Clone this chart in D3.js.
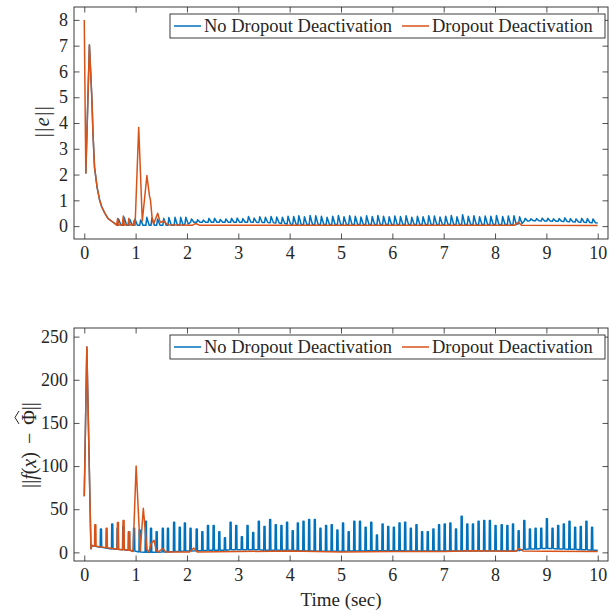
<!DOCTYPE html>
<html>
<head>
<meta charset="utf-8">
<script src="https://cdn.jsdelivr.net/npm/d3@7"></script>
<style>
  html, body { margin: 0; padding: 0; background: #fff; }
  svg { display: block; }
  text { font-family: "Liberation Serif", "Times New Roman", serif; fill: #262626; }
</style>
</head>
<body>
<svg id="chart" width="615" height="614"></svg>
<script>
// ---------------- DATA ----------------
const seriesNames = ["No Dropout Deactivation", "Dropout Deactivation"];
const xTicks = [0, 1, 2, 3, 4, 5, 6, 7, 8, 9, 10];
const eTicks = [0, 1, 2, 3, 4, 5, 6, 7, 8];
const fTicks = [0, 50, 100, 150, 200, 250];

// periodic dropout cycle instants (sec)
const cycleT = [0.65,0.76,0.87,0.97,1.08,1.20,1.30,1.41,1.53,1.63,
  1.75,1.86,1.96,2.07,2.19,2.30,2.41,2.52,2.63,2.74,
  2.85,2.96,3.07,3.18,3.29,3.40,3.51,3.62,3.73,3.84,
  3.95,4.06,4.16,4.27,4.38,4.49,4.60,4.71,4.82,4.93,
  5.04,5.15,5.26,5.37,5.48,5.59,5.70,5.81,5.92,6.03,
  6.14,6.25,6.36,6.47,6.58,6.69,6.80,6.91,7.02,7.13,
  7.24,7.35,7.46,7.57,7.68,7.79,7.90,8.01,8.13,8.24,
  8.35,8.46,8.57,8.68,8.79,8.90,9.01,9.12,9.23,9.34,
  9.45,9.56,9.67,9.78,9.89];

// ||e||, no dropout deactivation
const eBlueHeadT = [0.03,0.10,0.15,0.17,0.20,0.25,0.30,0.34,0.40,0.46,0.56];
const eBlueHeadV = [2.05,7.03,4.86,3.57,2.28,1.50,1.00,0.75,0.50,0.30,0.15];
const eBluePeak = [0.28,0.34,0.26,0.28,0.24,0.34,0.32,0.28,0.30,0.33,
  0.34,0.34,0.34,0.28,0.25,0.24,0.30,0.30,0.26,0.28,
  0.30,0.31,0.29,0.37,0.31,0.36,0.34,0.37,0.35,0.34,
  0.38,0.37,0.40,0.36,0.41,0.40,0.38,0.34,0.38,0.41,
  0.36,0.40,0.38,0.35,0.40,0.37,0.41,0.38,0.36,0.39,
  0.37,0.40,0.34,0.38,0.36,0.40,0.39,0.35,0.38,0.41,
  0.36,0.44,0.38,0.40,0.36,0.39,0.38,0.41,0.37,0.39,
  0.40,0.36,0.30,0.28,0.29,0.31,0.30,0.28,0.29,0.32,
  0.29,0.28,0.30,0.29,0.28];
const eBlueTrough = [0.03,0.03,0.03,0.03,0.03,0.03,0.03,0.03,0.03,0.03,
  0.03,0.03,0.08,0.15,0.15,0.15,0.15,0.15,0.15,0.15,
  0.15,0.15,0.15,0.15,0.15,0.14,0.14,0.13,0.12,0.10,
  0.08,0.07,0.06,0.06,0.06,0.06,0.06,0.06,0.06,0.06,
  0.06,0.06,0.06,0.06,0.06,0.06,0.06,0.06,0.06,0.06,
  0.06,0.06,0.06,0.06,0.06,0.06,0.06,0.06,0.06,0.06,
  0.06,0.06,0.06,0.06,0.06,0.06,0.06,0.06,0.06,0.06,
  0.06,0.10,0.20,0.21,0.21,0.20,0.20,0.19,0.19,0.18,
  0.17,0.16,0.15,0.14,0.13];
const eBlueEnd = [10, 0.12];

// ||e||, dropout deactivation
const eOrangeT = [0,0.03,0.10,0.15,0.17,0.20,0.25,0.30,0.34,0.40,
  0.46,0.56,0.63,0.65,0.67,0.74,0.76,0.78,0.85,0.87,
  0.89,0.95,0.97,0.99,1.06,1.13,1.22,1.27,1.29,1.32,
  1.35,1.43,1.48,1.55,1.62,2.10,2.17,2.25,8.38,8.45,
  8.52,10];
const eOrangeV = [8.00,2.05,7.03,4.86,3.57,2.28,1.50,1.00,0.75,0.50,
  0.30,0.15,0.04,0.30,0.04,0.04,0.39,0.04,0.04,0.30,
  0.04,0.04,0.22,0.03,3.83,0.20,1.96,1.17,1.00,0.35,
  0.08,0.50,0.14,0.20,0.05,0.03,0.10,0.03,0.03,0.15,
  0.03,0.02];

// ||f(x) - Phi_hat||, no dropout deactivation
const fBlueHeadT = [0,0.05,0.13,0.15,0.31,0.315,0.335,0.34,0.53,0.535,0.555,0.56];
const fBlueHeadV = [65,238,4.3,8,6,27,27,5.9,4,33,33,3.9];
const fBluePeak = [28,30,24,28,26,36,28,24,28,28,
  35,29,34,28,27,24,31,31,24,17,
  35,31,18,31,23,36,30,38,32,31,
  35,25,34,36,38,38,28,31,32,26,
  34,24,36,36,29,35,20,33,30,29,
  34,35,28,32,24,24,27,32,33,34,
  27,42,33,33,36,37,37,31,32,31,
  33,25,37,27,28,28,39,28,31,33,
  36,29,30,36,29];
const fBlueBase = [3.5,3,2.5,1.5,0.5,0,0,0,0.3,0.5,
  1,1.2,1.5,1.5,2,2,2.5,2.5,2.5,2.5,
  3,3,3,3,3,3,2.5,2.5,2.5,2.5,
  2.5,2.5,2,2,1.5,1.5,1.2,1.2,1.2,1.2,
  1.2,1.5,1.5,1.5,2,2,2,2,2,2,
  2,2,1.5,1.5,1.5,1.5,1.5,1.5,1.5,1.5,
  1.5,1.5,1.5,1.5,1.5,1.5,1.5,1.5,1.5,1.5,
  1.5,2,3.5,4,4,4.5,4.5,4.5,4,4,
  3.5,3.5,3,3,2.5];
const fBlueEnd = [10, 2.5];

// ||f(x) - Phi_hat||, dropout deactivation
const fOrangeT = [0,0.05,0.13,0.15,0.20,0.205,0.225,0.23,0.42,0.425,
  0.445,0.45,0.64,0.645,0.665,0.67,0.75,0.755,0.775,0.78,
  0.86,0.865,0.885,0.89,0.95,1.01,1.09,1.15,1.22,1.26,
  1.30,1.36,1.40,1.44,1.53,1.59,2.05,2.13,2.20,3.0,
  4.0,5.0,6.0,7.0,7.57,8.40,8.47,8.55,9.0,10];
const fOrangeV = [65,238,4.3,8,7.5,32,32,7.2,5.5,28,
  28,5.3,3.5,34.5,34.5,3.4,3,37,37,2.9,
  2.5,24,24,2.4,1,100,2,51,3,0.6,
  10,14,2,0.5,4.5,0.5,0.5,5,0.5,1,
  1.5,0.5,1,1,2,1.2,4.5,1.5,1.2,1];

// ---------------- BUILD POINT LISTS ----------------
function zip(T, V) { return T.map((t, i) => [t, V[i]]); }

function sawtooth(head, T, P, Tr, end) {
  const pts = head.slice();
  T.forEach((t, i) => {
    pts.push([t, Tr[i]]);
    pts.push([t + 0.018, P[i]]);
    pts.push([t + 0.065, Tr[i]]);
  });
  pts.push(end);
  return pts;
}
// narrow flat-topped pulses
function spikes(head, T, P, B, end) {
  const pts = head.slice();
  T.forEach((t, i) => {
    pts.push([t - 0.015, B[i]]);
    pts.push([t - 0.01, P[i]]);
    pts.push([t + 0.01, P[i]]);
    pts.push([t + 0.015, B[i]]);
  });
  pts.push(end);
  return pts;
}

const eBlue = sawtooth(zip(eBlueHeadT, eBlueHeadV), cycleT, eBluePeak, eBlueTrough, eBlueEnd);
const eOrange = zip(eOrangeT, eOrangeV);
const fBlue = spikes(zip(fBlueHeadT, fBlueHeadV), cycleT, fBluePeak, fBlueBase, fBlueEnd);
const fOrange = zip(fOrangeT, fOrangeV);

// ---------------- DRAW ----------------
const colors = ["#0072BD", "#D95319"];
const axisColor = "#262626";
const FONT = '"Liberation Serif", "Times New Roman", serif';
const svg = d3.select("#chart");
const L = 74, R = 608;

function panel(top, bottom, yDomain, yTicks, blue, orange) {
  const x = d3.scaleLinear().domain([-0.2, 10.2]).range([L, R]);
  const y = d3.scaleLinear().domain(yDomain).range([bottom, top]);
  const g = svg.append("g");
  const clipId = "clip" + top;
  svg.append("clipPath").attr("id", clipId)
    .append("rect").attr("x", L).attr("y", top).attr("width", R - L).attr("height", bottom - top);

  const line = d3.line().x(d => x(d[0])).y(d => y(d[1]));
  const lg = g.append("g").attr("clip-path", `url(#${clipId})`);
  lg.append("path").datum(blue).attr("d", line)
    .attr("fill", "none").attr("stroke", colors[0]).attr("stroke-width", 1.5).attr("stroke-linejoin", "round");
  lg.append("path").datum(orange).attr("d", line)
    .attr("fill", "none").attr("stroke", colors[1]).attr("stroke-width", 1.5).attr("stroke-linejoin", "round");

  const tk = 5.5;
  const styleAxis = sel => {
    sel.attr("font-family", FONT).attr("font-size", 18);
    sel.select(".domain").remove();
    sel.selectAll(".tick line").attr("stroke", axisColor).attr("stroke-width", 0.8);
    sel.selectAll(".tick text").attr("fill", axisColor)
      .style("font-family", FONT).style("font-size", "18px");
  };
  g.append("g").attr("transform", `translate(0,${bottom})`)
    .call(d3.axisBottom(x).tickValues(xTicks).tickFormat(d3.format("d")).tickSizeInner(-tk).tickSizeOuter(0).tickPadding(7))
    .call(styleAxis);
  g.append("g").attr("transform", `translate(0,${top})`)
    .call(d3.axisTop(x).tickValues(xTicks).tickFormat("").tickSizeInner(-tk).tickSizeOuter(0))
    .call(styleAxis);
  g.append("g").attr("transform", `translate(${L},0)`)
    .call(d3.axisLeft(y).tickValues(yTicks).tickFormat(d3.format("d")).tickSizeInner(-tk).tickSizeOuter(0).tickPadding(6))
    .call(styleAxis);
  g.append("g").attr("transform", `translate(${R},0)`)
    .call(d3.axisRight(y).tickValues(yTicks).tickFormat("").tickSizeInner(-tk).tickSizeOuter(0))
    .call(styleAxis);
  g.append("rect").attr("x", L).attr("y", top).attr("width", R - L).attr("height", bottom - top)
    .attr("fill", "none").attr("stroke", axisColor).attr("stroke-width", 0.9);

  // legend
  const lx = 170, ly = top + 7, lw = 435, lh = 24;
  const leg = g.append("g");
  leg.append("rect").attr("x", lx).attr("y", ly).attr("width", lw).attr("height", lh)
    .attr("fill", "#fff").attr("stroke", axisColor).attr("stroke-width", 0.9);
  const items = [{x0: 174, x1: 201, tx: 204}, {x0: 402, x1: 429, tx: 432}];
  items.forEach((it, i) => {
    leg.append("line").attr("x1", it.x0).attr("x2", it.x1).attr("y1", ly + lh / 2).attr("y2", ly + lh / 2)
      .attr("stroke", colors[i]).attr("stroke-width", 1.5);
    leg.append("text").attr("x", it.tx).attr("y", ly + lh / 2 + 6)
      .style("font-family", FONT).style("font-size", "18.5px").text(seriesNames[i]);
  });
  return g;
}

panel(7, 239, [-0.5, 8.5], eTicks, eBlue, eOrange);
panel(328, 561, [-10, 260], fTicks, fBlue, fOrange);

// y labels
const yl1 = svg.append("text").attr("transform", "translate(49,121) rotate(-90)")
  .attr("text-anchor", "middle").style("font-family", FONT).style("font-size", "20px")
  .style("letter-spacing", "1.5px");
yl1.append("tspan").text("||");
yl1.append("tspan").style("font-style", "italic").text("e");
yl1.append("tspan").text("||");

// bottom y label with a wide hat drawn over Phi
const g2 = svg.append("g").attr("transform", "translate(36,445) rotate(-90)");
const yl2 = g2.append("text").attr("x", 0).attr("y", 0)
  .attr("text-anchor", "middle").style("font-family", FONT).style("font-size", "20px");
yl2.append("tspan").text("||");
yl2.append("tspan").style("font-style", "italic").text("f");
yl2.append("tspan").text("(");
yl2.append("tspan").style("font-style", "italic").text("x");
yl2.append("tspan").text(")\u2009\u2009\u2212\u2009\u2009");
yl2.append("tspan").text("\u03A6");
yl2.append("tspan").text("||");
const textNode = yl2.node();
const phiIdx = textNode.textContent.indexOf("\u03A6");
if (phiIdx >= 0) {
  const ext = textNode.getExtentOfChar(phiIdx);
  const cx = ext.x + ext.width / 2;
  const topY = ext.y + 2;
  g2.append("path")
    .attr("d", `M${cx - 6.5},${topY - 1} L${cx},${topY - 5} L${cx + 6.5},${topY - 1}`)
    .attr("fill", "none").attr("stroke", axisColor).attr("stroke-width", 1);
}

// x label
svg.append("text").attr("x", 341).attr("y", 606).attr("text-anchor", "middle")
  .style("font-family", FONT).style("font-size", "19px").text("Time (sec)");
</script>
</body>
</html>
